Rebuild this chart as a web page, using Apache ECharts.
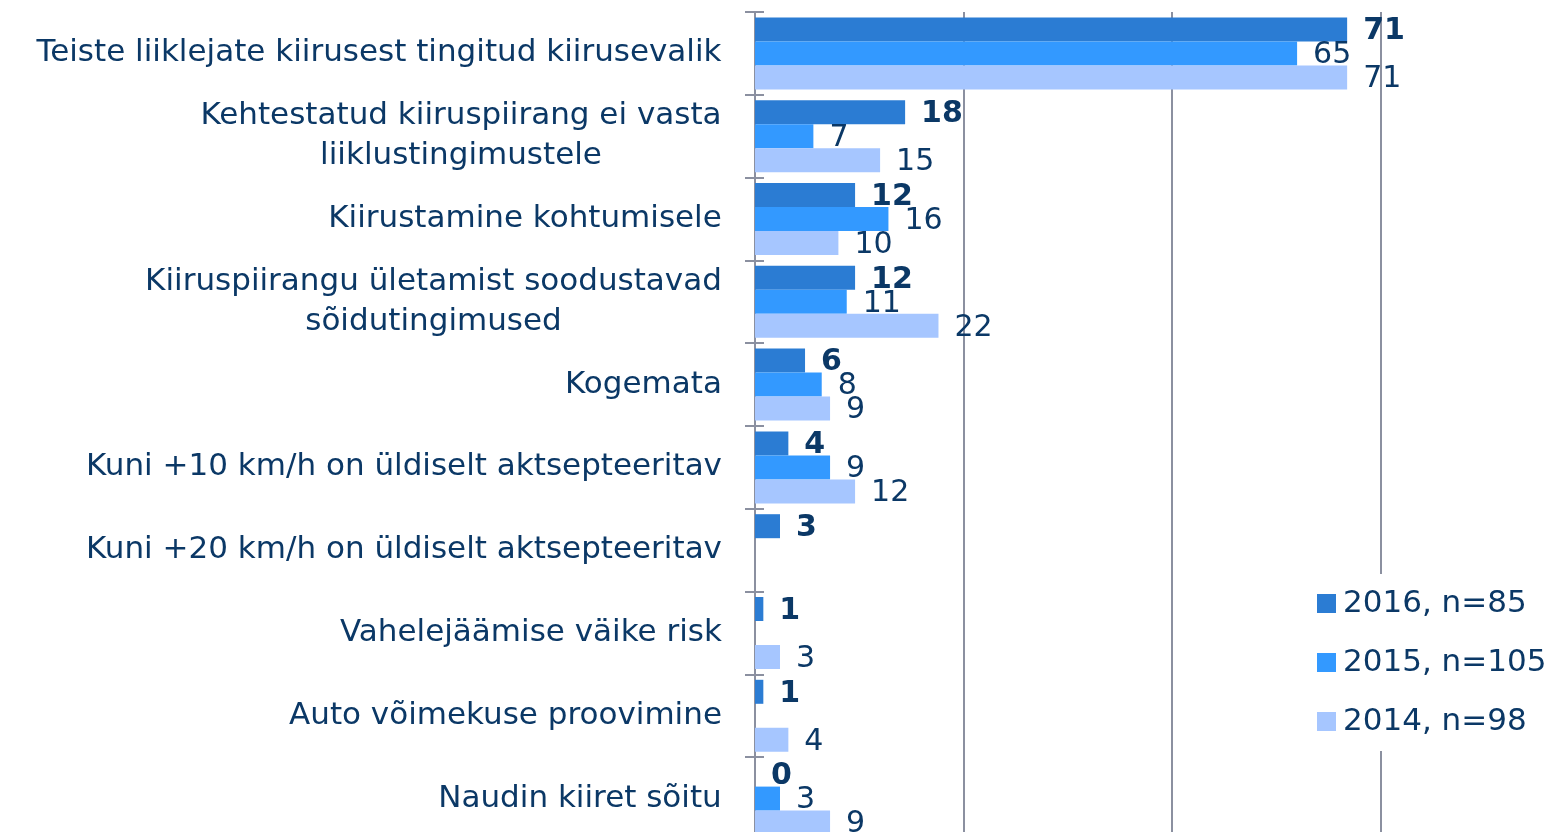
<!DOCTYPE html>
<html>
<head>
<meta charset="utf-8">
<script src="https://cdn.jsdelivr.net/npm/echarts@6/dist/echarts.min.js"></script>
<style>
  html, body { margin: 0; padding: 0; background: #fff; }
  #main { width: 1561px; height: 832px; }
</style>
</head>
<body>
<div id="main"></div>
<script>
var categories = [
    'Teiste liiklejate kiirusest tingitud kiirusevalik',
    'Kehtestatud kiiruspiirang ei vasta\nliiklustingimustele',
    'Kiirustamine kohtumisele',
    'Kiiruspiirangu ületamist soodustavad\nsõidutingimused',
    'Kogemata',
    'Kuni +10 km/h on üldiselt aktsepteeritav',
    'Kuni +20 km/h on üldiselt aktsepteeritav',
    'Vahelejäämise väike risk',
    'Auto võimekuse proovimine',
    'Naudin kiiret sõitu'
];
var seriesNames = ['2016, n=85', '2015, n=105', '2014, n=98'];
var values2016 = [71, 18, 12, 12, 6, 4, 3, 1, 1, 0];
var values2015 = [65, 7, 16, 11, 8, 9, null, null, null, 3];
var values2014 = [71, 15, 10, 22, 9, 12, null, 3, 4, 9];
var xTicks = [0, 25, 50, 75, 100];

var navy = '#0b3866';
var gridGrey = '#8b90a0';
var catFont = 'DejaVu Sans';
var catSize = 31;

// measure label lines so two-line labels get centred lines like the original
var ctx = document.createElement('canvas').getContext('2d');
ctx.font = catSize + 'px "' + catFont + '"';
var rich = {};
categories.forEach(function (c, i) {
    var w = 0;
    c.split('\n').forEach(function (l) { w = Math.max(w, ctx.measureText(l).width); });
    rich['c' + i] = { width: Math.ceil(w) + 2, align: 'center', fontSize: catSize, fontFamily: catFont, color: navy, lineHeight: 40 };
});

var chart = echarts.init(document.getElementById('main'));

function barSeries(name, data, color, bold) {
    return {
        name: name,
        type: 'bar',
        data: data,
        barWidth: 24,
        barGap: '0%',
        itemStyle: { color: color },
        label: {
            show: true,
            position: 'right',
            distance: 16,
            offset: [0, 2],
            fontFamily: catFont,
            fontSize: 30,
            fontWeight: bold ? 'bold' : 'normal',
            color: navy,
            formatter: function (p) { return p.value == null ? '' : p.value; }
        }
    };
}

var option = {
    animation: false,
    // plot runs past the right and bottom edges, as in the cropped original
    grid: { left: 755, top: 12, width: 834, height: 828, outerBoundsMode: 'none', containLabel: false },
    legend: {
        orient: 'vertical',
        left: 1302,
        top: 574,
        backgroundColor: '#fff',
        padding: [14, 20, 14, 15],
        itemWidth: 19,
        itemHeight: 19,
        itemGap: 28,
        icon: 'rect',
        textStyle: { fontFamily: catFont, fontSize: 31, color: navy, padding: [0, 0, 0, 2] },
        data: seriesNames
    },
    xAxis: {
        type: 'value',
        min: xTicks[0],
        max: xTicks[xTicks.length - 1],
        interval: 25,
        position: 'top',
        axisLine: { show: false },
        axisTick: { show: false },
        axisLabel: { show: false },
        splitLine: { show: true, lineStyle: { color: gridGrey, width: 2 } }
    },
    yAxis: [{
        type: 'category',
        inverse: true,
        data: categories,
        axisLine: { show: true, lineStyle: { color: gridGrey, width: 2 } },
        axisTick: { show: true, length: 10, lineStyle: { color: gridGrey, width: 2 } },
        axisLabel: {
            margin: 32,
            formatter: function (v, i) {
                return v.split('\n').map(function (l) { return '{c' + i + '|' + l + '}'; }).join('\n');
            },
            rich: rich
        }
    }, {
        type: 'category',
        inverse: true,
        position: 'left',
        data: categories,
        axisLine: { show: false },
        axisTick: { show: true, inside: true, length: 9, lineStyle: { color: gridGrey, width: 2 } },
        axisLabel: { show: false }
    }],
    series: [
        barSeries(seriesNames[0], values2016, '#2b7cd3', true),
        barSeries(seriesNames[1], values2015, '#3399ff', false),
        barSeries(seriesNames[2], values2014, '#a6c6ff', false)
    ]
};

chart.setOption(option);
</script>
</body>
</html>
